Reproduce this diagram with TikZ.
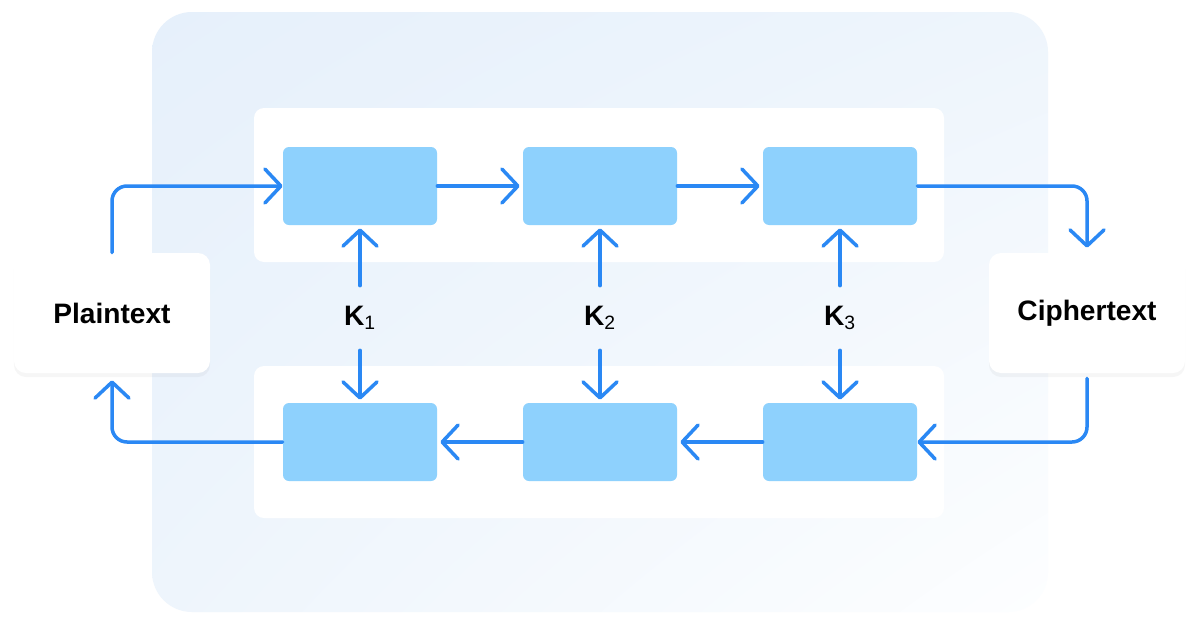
\documentclass[tikz,border=0pt]{standalone}
\usepackage{fontspec}
\setmainfont{Liberation Sans}
\usetikzlibrary{arrows.meta,shadows,shadings}
\definecolor{panelA}{HTML}{E6F0FB}
\definecolor{panelB}{HTML}{EEF5FC}
\definecolor{panelC}{HTML}{FDFEFF}
\definecolor{boxblue}{HTML}{8ED1FD}
\definecolor{arrowblue}{HTML}{2A88F4}

\begin{document}
\begin{tikzpicture}[x=0.2mm,y=-0.2mm]
	\tikzset{stage/.style={fill=boxblue, rounded corners=1.2mm, minimum width=30.8mm, minimum height=15.6mm, inner sep=0pt}}
	\tikzset{endbox/.style={fill=white, rounded corners=2.4mm, minimum width=39.2mm, minimum height=24mm, inner sep=0pt, font=\fontsize{16}{19}\selectfont\bfseries, drop shadow={opacity=0.07, shadow xshift=0mm, shadow yshift=-0.8mm}}}
	\tikzset{keylabel/.style={minimum height=12.8mm, inner sep=0pt, font=\fontsize{16}{19}\selectfont\bfseries}}
	\tikzset{flow/.style={draw=arrowblue, line width=0.7mm, line cap=round, rounded corners=3mm, -{Straight Barb[length=3.2mm,width=6.8mm,round]}}}
	\useasboundingbox (0,0) rectangle (1200,630);
	\fill[white] (0,0) rectangle (1200,630);
	\shade[rounded corners=8mm, upper left=panelA, upper right=panelB, lower left=panelB, lower right=panelC] (152,12) rectangle (1048,612);
	\fill[white, rounded corners=2mm] (254,108) rectangle (944,262);
	\fill[white, rounded corners=2mm] (254,366) rectangle (944,518);
	\node[endbox] (plain) at (112,313) {Plaintext};
	\node[endbox] (cipher) at (1087,313) {Ciphertext};
	\foreach \i/\x in {1/360,2/600,3/840} {
		\node[stage] (e\i) at (\x,186) {};
		\node[stage] (d\i) at (\x,442) {};
		\node[keylabel] (k\i) at (\x,318) {K\textsubscript{\fontsize{11}{12}\selectfont\mdseries\i}};
		\draw[flow, shorten >=0.6mm] (k\i.north) -- (e\i.south);
		\draw[flow, shorten >=0.6mm] (k\i.south) -- (d\i.north);
	}
	\draw[flow] (plain.north) |- (e1.west);
	\draw[flow, shorten >=0.6mm] (e1) -- (e2);
	\draw[flow, shorten >=0.6mm] (e2) -- (e3);
	\draw[flow, shorten >=1mm] (e3.east) -| (cipher.north);
	\draw[flow, shorten <=1mm] (cipher.south) |- (d3.east);
	\draw[flow, shorten >=0.6mm] (d3) -- (d2);
	\draw[flow, shorten >=0.6mm] (d2) -- (d1);
	\draw[flow, shorten >=1.4mm] (d1.west) -| (plain.south);
\end{tikzpicture}
\end{document}
